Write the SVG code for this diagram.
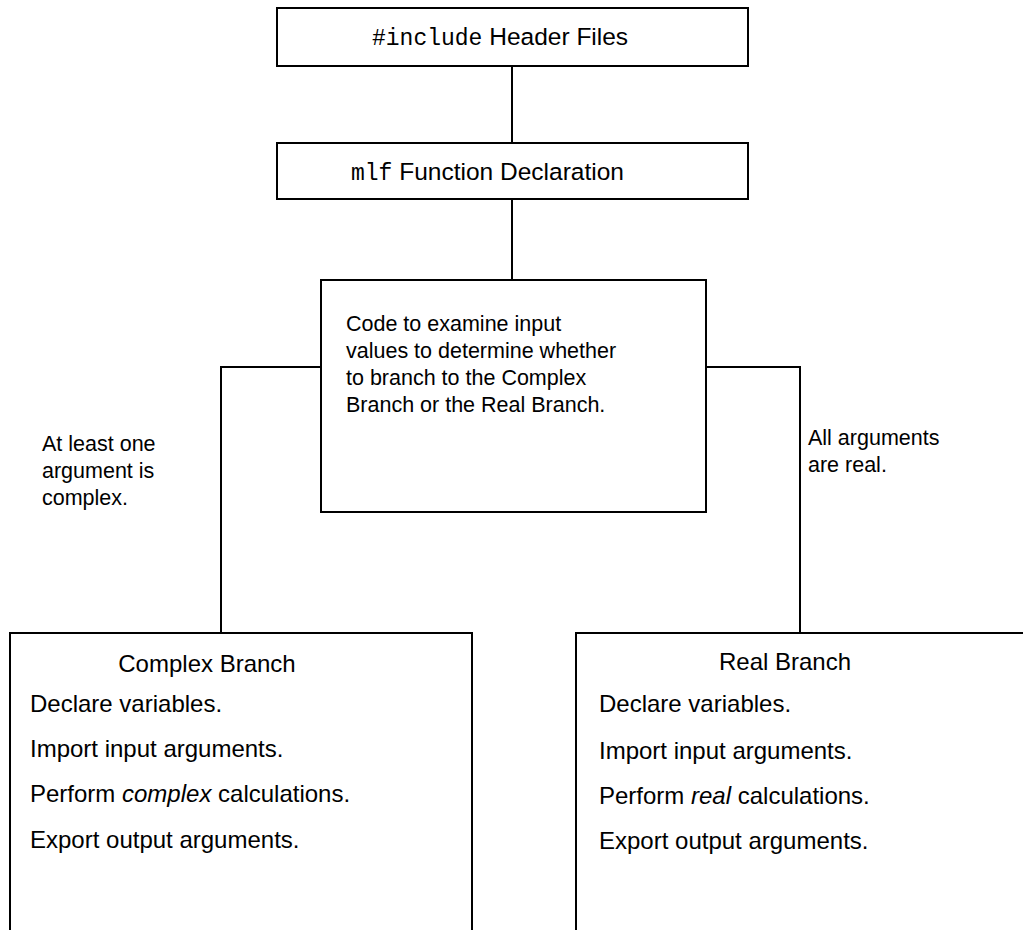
<svg xmlns="http://www.w3.org/2000/svg" width="1023" height="930" viewBox="0 0 1023 930">
<style>
.box{fill:#fff;stroke:#000;stroke-width:2}
.ln{fill:none;stroke:#000;stroke-width:2}
text{font-family:"Liberation Sans",Arial,sans-serif;fill:#000}
.t24{font-size:24.5px}
.t22{font-size:21.5px}
.t23{font-size:24px}
.mono{font-family:"Liberation Mono","DejaVu Sans Mono",monospace;font-size:23px}
</style>
<rect width="1023" height="930" fill="#fff"/>
<g id="connectors">
<line class="ln" x1="512" y1="66" x2="512" y2="143"/>
<line class="ln" x1="512" y1="199" x2="512" y2="280"/>
<polyline class="ln" points="321,367 221,367 221,633"/>
<polyline class="ln" points="706,367 800,367 800,633"/>
</g>
<g id="header">
<rect class="box" x="277" y="8" width="471" height="58"/>
<text class="t24" x="372" y="45"><tspan class="mono">#include</tspan> Header Files</text>
</g>
<g id="decl">
<rect class="box" x="277" y="143" width="471" height="56"/>
<text class="t24" x="351" y="180"><tspan class="mono">mlf</tspan> Function Declaration</text>
</g>
<g id="examine">
<rect class="box" x="321" y="280" width="385" height="232"/>
<text class="t22" x="346"><tspan x="346" y="331">Code to examine input</tspan><tspan x="346" y="358">values to determine whether</tspan><tspan x="346" y="385">to branch to the Complex</tspan><tspan x="346" y="412">Branch or the Real Branch.</tspan></text>
</g>
<g id="label-left">
<text class="t22"><tspan x="42" y="451">At least one</tspan><tspan x="42" y="478">argument is</tspan><tspan x="42" y="505">complex.</tspan></text>
</g>
<g id="label-right">
<text class="t22"><tspan x="808" y="445">All arguments</tspan><tspan x="808" y="472">are real.</tspan></text>
</g>
<g id="complex-branch">
<path class="ln" d="M10,931 V633 H472 V931"/>
<text class="t23" x="207" y="672" text-anchor="middle">Complex Branch</text>
<text class="t23" x="30" y="712">Declare variables.</text>
<text class="t23" x="30" y="757">Import input arguments.</text>
<text class="t23" x="30" y="802">Perform <tspan font-style="italic">complex</tspan> calculations.</text>
<text class="t23" x="30" y="848">Export output arguments.</text>
</g>
<g id="real-branch">
<path class="ln" d="M576,931 V633 H1024"/>
<text class="t23" x="785" y="670" text-anchor="middle">Real Branch</text>
<text class="t23" x="599" y="712">Declare variables.</text>
<text class="t23" x="599" y="759">Import input arguments.</text>
<text class="t23" x="599" y="804">Perform <tspan font-style="italic">real</tspan> calculations.</text>
<text class="t23" x="599" y="849">Export output arguments.</text>
</g>
</svg>
